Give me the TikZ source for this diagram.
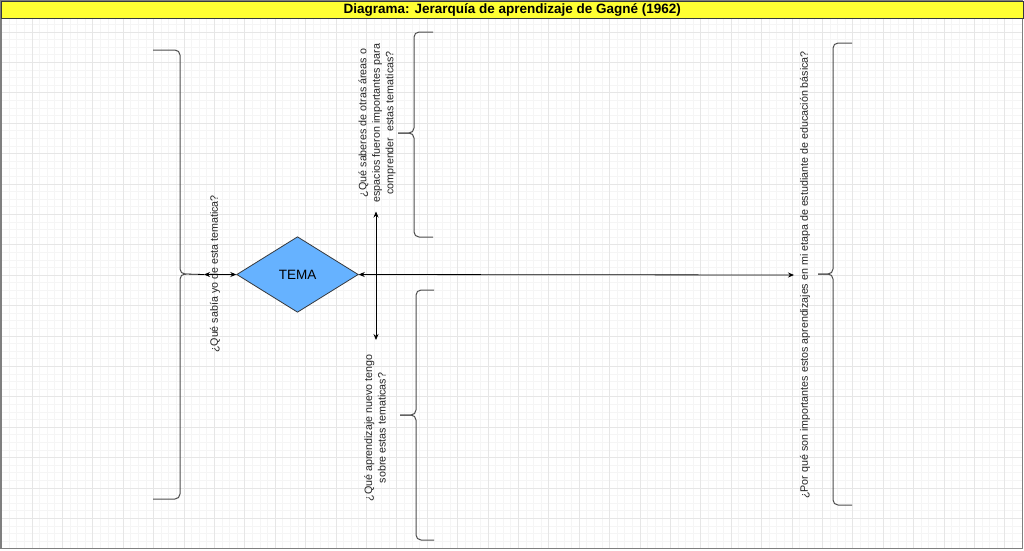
\documentclass[tikz,border=0pt]{standalone}
\usepackage{fontspec}
\setmainfont{Liberation Sans}
\usetikzlibrary{shapes.geometric,arrows.meta}
\definecolor{gridminor}{HTML}{F5F5F5}
\definecolor{gridmajor}{HTML}{E6E6E6}
\definecolor{titlebg}{HTML}{FFFF33}
\definecolor{framegray}{HTML}{7F7F7F}
\definecolor{bracecol}{HTML}{4D4D4D}
\definecolor{temafill}{HTML}{66B2FF}
\definecolor{temaline}{HTML}{36393D}
\tikzset{
  bracestyle/.style={draw=bracecol, line width=1pt, rounded corners=5pt},
  arr/.style={draw=black, line width=0.8pt, {Stealth[length=6pt,width=5pt]}-{Stealth[length=6pt,width=5pt]}},
  plainline/.style={draw=black, line width=0.8pt},
  qtext/.style={font=\fontsize{10.7}{13.5}\selectfont, rotate=90, align=center, inner sep=1pt, text=black!85},
}
\begin{document}
\begin{tikzpicture}[x=1pt,y=-1pt]
\useasboundingbox (0,0) rectangle (1024,550);
\fill[white] (0,0) rectangle (1024,550);
% grid
\foreach \i in {0,...,133} {
  \pgfmathsetmacro{\xx}{1.5+7.6*\i}
  \draw[gridminor, line width=0.5pt] (\xx,18) -- (\xx,548);
}
\foreach \i in {0,...,71} {
  \pgfmathsetmacro{\yy}{1.5+7.6*\i}
  \ifdim \yy pt>18pt \draw[gridminor, line width=0.5pt] (1,\yy) -- (1022,\yy); \fi
}
\foreach \i in {0,...,33} {
  \pgfmathsetmacro{\xx}{1.5+30.4*\i}
  \draw[gridmajor, line width=0.6pt] (\xx,18) -- (\xx,548);
}
\foreach \i in {1,...,18} {
  \pgfmathsetmacro{\yy}{1.5+30.4*\i}
  \draw[gridmajor, line width=0.6pt] (1,\yy) -- (1022,\yy);
}
% frame and title
\draw[framegray, line width=1.5pt] (1,1) rectangle (1022.5,548.5);
\node[draw=temaline, fill=titlebg, line width=1pt, minimum width=1021.5pt, minimum height=17pt, inner sep=0pt, anchor=north west,
  font=\fontsize{13.5}{15}\selectfont\bfseries] (title) at (1,1) {Diagrama: Jerarquía de aprendizaje de Gagné (1962)};

% central diamond
\node[diamond, draw=temaline, fill=temafill, line width=0.8pt, minimum width=121.6pt, minimum height=75.6pt, inner sep=0pt,
  font=\fontsize{13.5}{16}\selectfont] (tema) at (297.5,274.5) {TEMA};

% texts
\node[qtext] (qL) at (215,274) {¿Qué sabía yo de esta tematica?};
\node[qtext] (qT) at (377,123) {¿Qué saberes de otras áreas o\\espacios fueron importantes para\\comprender~ estas tematicas?};
\node[qtext] (qB) at (375,428) {¿Qué aprendizaje nuevo tengo\\sobre estas tematicas?};
\node[qtext] (qR) at (805,275) {¿Por qué son importantes estos aprendizajes en mi etapa de estudiante de educación básica?};

% braces
% left brace "}"
\coordinate (bL) at (186,274);
\draw[bracestyle] (153,50) -- (180,50) -- (180,274) -- (bL);
\draw[bracestyle] (153,499) -- (180,499) -- (180,274) -- (bL);
% top middle brace "{"
\coordinate (bT) at (398,133);
\draw[bracestyle] (433,32) -- (414,32) -- (414,133) -- (bT);
\draw[bracestyle] (433,237) -- (414,237) -- (414,133) -- (bT);
% bottom middle brace "{"
\coordinate (bB) at (400,415);
\draw[bracestyle] (434,290) -- (416,290) -- (416,415) -- (bB);
\draw[bracestyle] (434,540) -- (416,540) -- (416,415) -- (bB);
% right brace "{"
\coordinate (bR) at (818,274);
\draw[bracestyle] (852,43) -- (833,43) -- (833,274) -- (bR);
\draw[bracestyle] (852,505) -- (833,505) -- (833,274) -- (bR);

% connectors
\coordinate (aL) at (204,274.5);
\draw[plainline] (bL) -- (aL);
\draw[arr] (aL) -- (tema.west);
\coordinate (vT) at (376,211.5);
\coordinate (vB) at (376,340);
\draw[arr] (vT) -- (vB);
\coordinate (aR) at (794,275);
\draw[arr] (tema.east) -- (aR);
\end{tikzpicture}
\end{document}
